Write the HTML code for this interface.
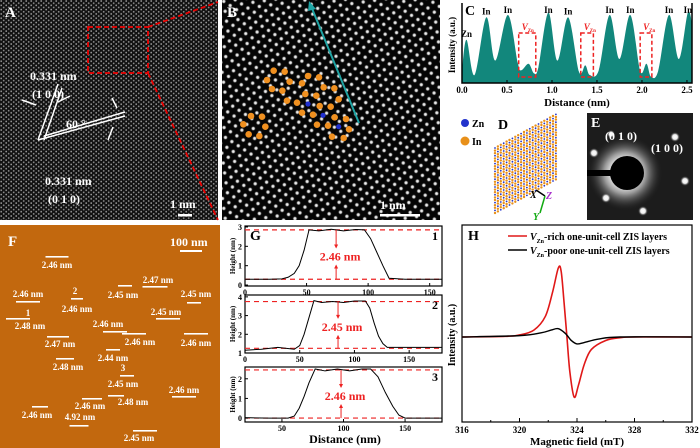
<!DOCTYPE html>
<html><head><meta charset="utf-8"><style>
html,body{margin:0;padding:0;background:#fff;}
svg{display:block;font-family:"Liberation Serif",serif;font-weight:bold;}
</style></head><body>
<svg id="fig" width="700" height="448" viewBox="0 0 700 448" xmlns="http://www.w3.org/2000/svg">
<defs>
<pattern id="latA" width="5" height="4.3" patternUnits="userSpaceOnUse"><rect width="5" height="4.3" fill="#111"/><circle cx="1.2" cy="1" r="0.9" fill="#9a9a9a"/><circle cx="3.7" cy="3.2" r="0.9" fill="#8a8a8a"/></pattern>
<radialGradient id="blob"><stop offset="0" stop-color="#fff"/><stop offset="0.5" stop-color="#ccc"/><stop offset="1" stop-color="#000" stop-opacity="0"/></radialGradient>
<pattern id="latB" width="11.5" height="10" patternUnits="userSpaceOnUse" patternTransform="rotate(-8)"><rect width="11.5" height="10" fill="#050505"/><circle cx="2.9" cy="2.5" r="2.6" fill="url(#blob)"/><circle cx="8.65" cy="7.5" r="2.6" fill="url(#blob)"/></pattern>
<radialGradient id="glow"><stop offset="0.3" stop-color="#fff"/><stop offset="0.55" stop-color="#999"/><stop offset="1" stop-color="#1a1a1a" stop-opacity="0"/></radialGradient>
<radialGradient id="spot"><stop offset="0" stop-color="#fff"/><stop offset="0.5" stop-color="#eee"/><stop offset="1" stop-color="#333" stop-opacity="0"/></radialGradient>
</defs>

<!-- Panel A -->
<g>
<rect x="0" y="0" width="218" height="220" fill="url(#latA)"/>
<text x="5" y="17" fill="#fff" font-size="15">A</text>
<rect x="88" y="27" width="60" height="46" fill="none" stroke="#e00" stroke-width="1.8" stroke-dasharray="5,3"/>
<line x1="148" y1="27" x2="218" y2="2" stroke="#e00" stroke-width="1.8" stroke-dasharray="5,3"/>
<line x1="148" y1="73" x2="218" y2="220" stroke="#e00" stroke-width="1.8" stroke-dasharray="5,3"/>
<g stroke="#fff" stroke-width="1.5" fill="none">
<path d="M38 140 L58 84 M44 140 L62 88"/>
<path d="M38 140 L125 116 M44 136 L125 112"/>
<path d="M22 100 L36 105 M70 96 L58 102 M112 98 L117 108 M108 140 L113 127"/>
</g>
<text x="30" y="80" fill="#fff" font-size="12">0.331 nm</text>
<text x="32" y="98" fill="#fff" font-size="12">(1 0 0)</text>
<text x="66" y="128" fill="#fff" font-size="12">60 °</text>
<text x="45" y="185" fill="#fff" font-size="12">0.331 nm</text>
<text x="48" y="203" fill="#fff" font-size="12">(0 1 0)</text>
<text x="170" y="208" fill="#fff" font-size="12">1 nm</text>
<rect x="178" y="214" width="14" height="2.5" fill="#fff"/>
</g>

<!-- Panel B -->
<g>
<rect x="222" y="0" width="218" height="220" fill="url(#latB)"/>
<text x="227" y="17" fill="#fff" font-size="15">B</text>
<line x1="359" y1="123" x2="311" y2="6" stroke="#1fa4a4" stroke-width="2"/>
<path d="M309 1 L316 9 L308 11Z" fill="#1fa4a4"/>
<g id="atomsB"></g>
<text x="380" y="209" fill="#fff" font-size="12">1 nm</text>
<rect x="380" y="214" width="40" height="2.5" fill="#fff"/>
</g>

<!-- Panel C -->
<g id="panelC"></g>

<!-- Panel D -->
<g>
<circle cx="465" cy="123" r="4" fill="#2233cc"/><text x="472" y="127" font-size="10">Zn</text>
<circle cx="465" cy="141" r="4.5" fill="#e8901a"/><text x="472" y="145" font-size="10">In</text>
<text x="498" y="129" font-size="14">D</text>
<g id="latD"></g>
<g stroke-width="1.5">
<line x1="545" y1="196" x2="536" y2="190" stroke="#000"/><text x="530" y="198" font-size="10" font-style="italic">X</text>
<line x1="545" y1="196" x2="540" y2="213" stroke="#1a1"/><text x="533" y="220" font-size="10" fill="#1a1" font-style="italic">Y</text>
<text x="546" y="199" font-size="10" fill="#a3c" font-style="italic">Z</text>
</g>
</g>

<!-- Panel E -->
<g>
<rect x="587" y="113" width="106" height="107" fill="#1c1c1c"/>
<circle cx="625" cy="173" r="38" fill="url(#glow)"/>
<rect x="587" y="170" width="30" height="6" fill="#000"/>
<circle cx="627" cy="173" r="17" fill="#000"/>
<g fill="url(#spot)">
<circle cx="594" cy="153" r="5"/><circle cx="675" cy="137" r="5"/><circle cx="685" cy="181" r="5"/>
<circle cx="606" cy="198" r="5"/><circle cx="643" cy="211" r="5"/><circle cx="611" cy="134" r="4"/>
</g>
<text x="591" y="127" fill="#fff" font-size="14">E</text>
<text x="605" y="140" fill="#fff" font-size="12">(0 1 0)</text>
<text x="651" y="152" fill="#fff" font-size="12">(1 0 0)</text>
</g>

<!-- Panel F -->
<g id="panelF">
<rect x="0" y="225" width="220" height="223" fill="#c2680e"/>
<text x="8" y="246" fill="#fff" font-size="15">F</text>
<text x="170" y="246" fill="#fff" font-size="12">100 nm</text>
<rect x="180" y="250" width="22" height="2" fill="#fff"/>
</g>

<!-- Panel G -->
<g id="panelG"></g>

<!-- Panel H -->
<g id="panelH"></g>
</svg>

<script>
// ---------- Panel C data ----------
const cDist = [0,0.05,0.14,0.27,0.37,0.51,0.62,0.66,0.74,0.8,0.85,0.96,1.06,1.18,1.3,1.37,1.42,1.52,1.64,1.75,1.87,1.98,2.05,2.1,2.18,2.30,2.41,2.51,2.56];
const cInt  = [0.16,0.54,0.1,0.82,0.28,0.85,0.25,0.16,0.24,0.12,0.2,0.88,0.28,0.82,0.14,0.22,0.1,0.16,0.85,0.3,0.85,0.15,0.24,0.08,0.15,0.85,0.3,0.88,0.72];
const cTicks = ["0.0","0.5","1.0","1.5","2.0","2.5"];
const cTickVals = [0,0.5,1,1.5,2,2.5];
const cPeakLabels = ["Zn","In","In","In","In","In","In","In","In"];
const cPeakPos = [0.05,0.27,0.51,0.96,1.18,1.64,1.87,2.30,2.51];
const cVacancy = [[0.63,0.82],[1.32,1.46],[1.98,2.11]];

// ---------- Panel G data ----------
const g1x=[0,20,30,35,40,44,48,52,60,70,80,90,97,102,107,112,117,130,160];
const g1y=[0.3,0.3,0.32,0.4,0.6,1.0,1.8,2.85,2.8,2.88,2.8,2.87,2.85,2.4,1.7,1.0,0.35,0.3,0.3];
const g2x=[0,15,30,45,50,54,58,63,70,80,90,100,110,114,118,122,126,130,150,180];
const g2y=[1.15,1.2,1.3,1.2,1.4,2.0,2.8,3.8,3.7,3.75,3.7,3.78,3.78,3.4,2.6,1.9,1.5,1.3,1.3,1.3];
const g3x=[20,40,55,60,64,68,72,77,85,95,105,115,122,128,134,140,145,150,180];
const g3y=[0.02,0,0,0.1,0.5,1.1,1.8,2.5,2.4,2.5,2.4,2.5,2.5,2.1,1.3,0.6,0.15,0,0];
const gLabels=["2.46 nm","2.45 nm","2.46 nm"];
const gTop=[2.85,3.75,2.45];
const gBase=[0.3,1.25,0];
const gArrowX=[74,85,98];

// ---------- Panel H data ----------
const hRedX=[316,319,320,321,321.8,322.3,322.7,322.9,323.1,323.3,323.5,323.8,324.1,324.5,325,326,327,328,332];
const hRedY=[0,0.01,0.03,0.1,0.3,0.65,1.0,0.95,0.5,0,-0.5,-0.87,-0.7,-0.4,-0.18,-0.05,-0.01,0,0];
const hBlkX=[316,320,321.5,322.2,322.7,323.2,323.6,324,324.5,325.5,327,332];
const hBlkY=[0,0.02,0.06,0.1,0.12,0.05,-0.05,-0.1,-0.08,-0.03,0,0];
const hTicks=[316,320,324,328,332];

// ---------- Panel F labels ----------
const fText=[["2.46 nm",57,268],["2.47 nm",158,283],["2.46 nm",28,297],["2",75,294],["2.45 nm",123,298],["2.45 nm",196,297],["1",28,316],["2.48 nm",30,329],["2.46 nm",77,312],["2.45 nm",166,315],["2.46 nm",108,327],["2.46 nm",140,345],["2.46 nm",196,346],["2.47 nm",60,347],["2.44 nm",113,361],["2.48 nm",68,370],["3",123,371],["2.45 nm",123,387],["2.46 nm",184,393],["2.46 nm",90,409],["2.48 nm",133,405],["2.46 nm",37,418],["4.92 nm",80,420],["2.45 nm",139,441]];
const fBars=[[57,256,23],[155,286,25],[28,301,24],[77,298,12],[125,285,14],[194,302,14],[18,318,24],[168,318,24],[115,331,24],[134,333,24],[196,333,24],[58,336,22],[113,349,14],[65,358,18],[127,375,14],[184,396,24],[92,398,20],[116,395,16],[40,406,16],[79,425,19],[145,430,24]];

// ---------- Panel B atom overlay (zoom coords /3) ----------
const bOrange=[[155,212],[188,215],[135,240],[203,245],[150,267],[181,272],[240,250],[258,228],[291,232],[305,262],[337,265],[250,282],[283,287],[195,302],[225,308],[350,298],[293,318],[326,320],[240,338],[273,344],[338,352],[372,357],[285,374],[318,377],[381,388],[330,410],[365,414],[87,348],[120,350],[64,373],[130,380],[80,403],[112,408]];
const bBlue=[[258,312],[303,346],[350,380]];

const NS="http://www.w3.org/2000/svg";
function mk(tag,attrs,parent){const e=document.createElementNS(NS,tag);for(const k in attrs)e.setAttribute(k,attrs[k]);parent.appendChild(e);return e;}
function txt(s,attrs,parent){const e=mk('text',attrs,parent);e.textContent=s;return e;}
function lin(d0,d1,r0,r1){return v=>r0+(v-d0)/(d1-d0)*(r1-r0);}
function smooth(pts){let d=`M${pts[0][0]},${pts[0][1]}`;for(let i=0;i<pts.length-1;i++){const p0=pts[Math.max(0,i-1)],p1=pts[i],p2=pts[i+1],p3=pts[Math.min(pts.length-1,i+2)];
const c1x=p1[0]+(p2[0]-p0[0])/6,c1y=p1[1]+(p2[1]-p0[1])/6,c2x=p2[0]-(p3[0]-p1[0])/6,c2y=p2[1]-(p3[1]-p1[1])/6;d+=` C${c1x},${c1y} ${c2x},${c2y} ${p2[0]},${p2[1]}`;}return d;}

// ----- Panel C -----
(function(){
const g=document.getElementById('panelC');
const L=462,R=692,T=3,B=83;
const x=lin(0,2.556,L,R), y=lin(0,1,B,T);
mk('rect',{x:L,y:T,width:R-L,height:B-T,fill:'#fff'},g);
const pts=cDist.map((d,i)=>[x(d),y(cInt[i])]);
const area=mk('path',{d:smooth(pts)+` L${x(cDist[cDist.length-1])},${B} L${L},${B}Z`,fill:'#12877c'},g);


mk('path',{d:`M${L},${T} V${B} H${R} V${T}`,fill:'none',stroke:'#000','stroke-width':1.5},g);
cTickVals.forEach((v,i)=>{mk('line',{x1:x(v),y1:B,x2:x(v),y2:B-3,stroke:'#000'},g);
const t=txt(cTicks[i],{x:x(v),y:B+10,'font-size':9,'text-anchor':'middle'},g);

});
txt('Distance (nm)',{x:577,y:106,'font-size':11,'text-anchor':'middle'},g);
txt('Intensity (a.u.)',{x:0,y:0,'font-size':9,'text-anchor':'middle',transform:`translate(455,45) rotate(-90)`},g);
txt('C',{x:465,y:15,'font-size':14},g);
cPeakPos.forEach((p,i)=>{const idx=cDist.indexOf(p);const yy=y(idx>=0?cInt[idx]:0.85)-3;
const t=txt(cPeakLabels[i],{x:x(p),y:Math.max(yy,13),'font-size':9,'text-anchor':'middle'},g);

});
cVacancy.forEach(v=>{const r=mk('rect',{x:x(v[0]),y:33,width:x(v[1])-x(v[0]),height:44,fill:'none',stroke:'#e22','stroke-width':1.5,'stroke-dasharray':'4,2.5'},g);


txt('V',{x:x(v[0])+3,y:30,'font-size':9,fill:'#e22','font-style':'italic'},g);
txt('Zn',{x:x(v[0])+9,y:32,'font-size':5,fill:'#e22'},g);});
})();

// ----- Panel B atoms -----
(function(){
const g=document.getElementById('atomsB');
bOrange.forEach(p=>{mk('circle',{cx:222+p[0]/3,cy:p[1]/3,r:3.3,fill:'#f09020'},g);});
bBlue.forEach(p=>{mk('circle',{cx:222+p[0]/3,cy:p[1]/3,r:2.6,fill:'#2030d0'},g);});
})();

// ----- Panel D lattice -----
(function(){
const g=document.getElementById('latD');
for(let r=0;r<26;r++)for(let c=0;c<22;c++){const cx=495+c*2.9,cy=148+r*2.6-c*1.6;
if(cy>215-c*1.6||cy<113)continue;
if((r+c)%3===0)mk('circle',{cx,cy,r:0.9,fill:'#2233cc'},g);else mk('circle',{cx,cy,r:1.2,fill:'#e8901a'},g);}
})();

// ----- Panel F -----
(function(){
const g=document.getElementById('panelF');
fText.forEach(t=>{const e=txt(t[0],{x:t[1],y:t[2],'font-size':9,fill:'#fff','text-anchor':'middle'},g);

});
fBars.forEach(b=>{mk('rect',{x:b[0]-b[2]/2,y:b[1],width:b[2],height:1.6,fill:'#fff'},g);});
})();

// ----- Panel G -----
(function(){
const g=document.getElementById('panelG');
const L=245,R=442;
const cfg=[{T:226,B:286,xd:[0,160],yd:[-0.05,3.05],yt:[0,1,2,3],xt:[0,50,100,150],xs:g1x,ys:g1y,n:"1"},
{T:295,B:353,xd:[0,180],yd:[1,4.1],yt:[1,2,3,4],xt:[0,50,100,150],xs:g2x,ys:g2y,n:"2"},
{T:367,B:422,xd:[20,180],yd:[-0.2,2.6],yt:[0,1,2],xt:[50,100,150],xs:g3x,ys:g3y,n:"3"}];
cfg.forEach((c,k)=>{
const x=lin(c.xd[0],c.xd[1],L,R),y=lin(c.yd[0],c.yd[1],c.B,c.T);
mk('rect',{x:L,y:c.T,width:R-L,height:c.B-c.T,fill:'#fff',stroke:'#000','stroke-width':1.2},g);
mk('line',{x1:L,y1:y(gTop[k]),x2:R,y2:y(gTop[k]),stroke:'#e22','stroke-width':1.2,'stroke-dasharray':'5,4'},g);
mk('line',{x1:L,y1:y(gBase[k]),x2:R,y2:y(gBase[k]),stroke:'#e22','stroke-width':1.2,'stroke-dasharray':'5,4'},g);
const p=mk('path',{d:'M'+c.xs.map((v,i)=>`${x(v)},${y(c.ys[i])}`).join(' L'),fill:'none',stroke:'#000','stroke-width':1},g);


const ax=x(gArrowX[k]),mid=(y(gTop[k])+y(gBase[k]))/2;
mk('line',{x1:ax,y1:y(gTop[k]),x2:ax,y2:mid-7,stroke:'#e22','stroke-width':1},g);
mk('line',{x1:ax,y1:y(gBase[k]),x2:ax,y2:mid+11,stroke:'#e22','stroke-width':1},g);
mk('path',{d:`M${ax-2},${mid-10} L${ax+2},${mid-10} L${ax},${mid-6}Z`,fill:'#e22'},g);
mk('path',{d:`M${ax-2},${mid+14} L${ax+2},${mid+14} L${ax},${mid+10}Z`,fill:'#e22'},g);
txt(gLabels[k],{x:ax+4,y:mid+6,'font-size':12,fill:'#e22','text-anchor':'middle'},g);
txt(c.n,{x:R-10,y:c.T+14,'font-size':12},g);
c.yt.forEach(v=>{mk('line',{x1:L,y1:y(v),x2:L+3,y2:y(v),stroke:'#000'},g);txt(String(v),{x:L-3,y:y(v)+3,'font-size':8,'text-anchor':'end'},g);});
c.xt.forEach(v=>{mk('line',{x1:x(v),y1:c.B,x2:x(v),y2:c.B-3,stroke:'#000'},g);txt(String(v),{x:x(v),y:c.B+9,'font-size':8,'text-anchor':'middle'},g);});
txt('Height (nm)',{x:0,y:0,'font-size':7,'text-anchor':'middle',transform:`translate(235,${(c.T+c.B)/2}) rotate(-90)`},g);
});
txt('G',{x:250,y:240,'font-size':14},g);
txt('Distance (nm)',{x:345,y:443,'font-size':12,'text-anchor':'middle'},g);
})();

// ----- Panel H -----
(function(){
const g=document.getElementById('panelH');
const L=462,R=692,T=225,B=422;
const x=lin(316,332,L,R),y=lin(0,1,337,268);
mk('rect',{x:L,y:T,width:R-L,height:B-T,fill:'#fff',stroke:'#000','stroke-width':1.2},g);
for(let v=316;v<=332;v+=2){mk('line',{x1:x(v),y1:B,x2:x(v),y2:B-(v%4===0?4:2),stroke:'#000'},g);}
hTicks.forEach(v=>{txt(String(v),{x:x(v),y:B+11,'font-size':9,'text-anchor':'middle'},g);});
txt('Magnetic field (mT)',{x:577,y:445,'font-size':11,'text-anchor':'middle'},g);
txt('Intensity (a.u.)',{x:0,y:0,'font-size':10,'text-anchor':'middle',transform:`translate(455,335) rotate(-90)`},g);
const r=mk('path',{d:smooth(hRedX.map((v,i)=>[x(v),y(hRedY[i])])),fill:'none',stroke:'#e01818','stroke-width':1.6},g);


const b=mk('path',{d:smooth(hBlkX.map((v,i)=>[x(v),y(hBlkY[i])])),fill:'none',stroke:'#000','stroke-width':1.4},g);


txt('H',{x:468,y:240,'font-size':14},g);
mk('line',{x1:508,y1:236,x2:527,y2:236,stroke:'#e01818','stroke-width':1.5},g);
mk('line',{x1:508,y1:250,x2:527,y2:250,stroke:'#000','stroke-width':1.5},g);
const l1=txt('',{x:530,y:240,'font-size':10},g);l1.innerHTML='<tspan font-style="italic">V</tspan><tspan font-size="6" dy="3">Zn</tspan><tspan dy="-3">-rich  one-unit-cell ZIS layers</tspan>';


const l2=txt('',{x:530,y:254,'font-size':10},g);l2.innerHTML='<tspan font-style="italic">V</tspan><tspan font-size="6" dy="3">Zn</tspan><tspan dy="-3">-poor one-unit-cell ZIS layers</tspan>';


})();
</script>
</body></html>
